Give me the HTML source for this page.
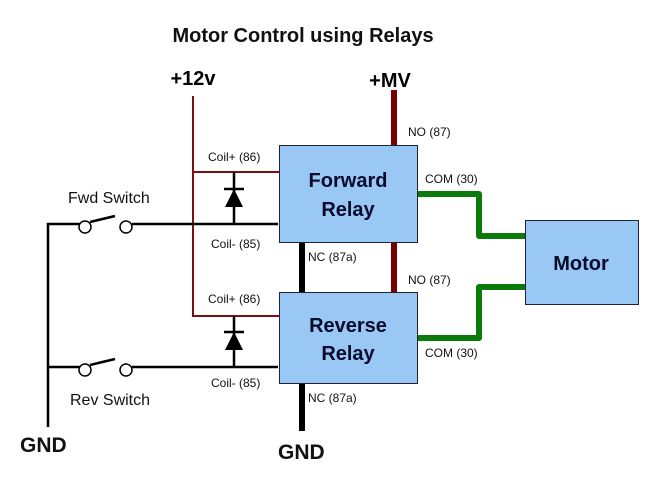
<!DOCTYPE html>
<html><head><style>body{margin:0;background:#fff}svg{display:block}text{font-family:"Liberation Sans",sans-serif}</style></head><body>
<svg width="656" height="504" viewBox="0 0 656 504">
<text x="303" y="42" font-size="20" font-weight="bold" text-anchor="middle" fill="#111">Motor Control using Relays</text>
<text x="193" y="85" font-size="20" font-weight="bold" text-anchor="middle">+12v</text>
<text x="390" y="87" font-size="20" font-weight="bold" text-anchor="middle">+MV</text>
<!-- 12v red wiring -->
<g stroke="#7a1010" stroke-width="2" fill="none">
<polyline points="193,96 193,316 280,316"/>
<line x1="193" y1="172" x2="280" y2="172"/>
</g>
<!-- black control wiring -->
<g stroke="#000" stroke-width="2.5" fill="none">
<polyline points="48,427 48,224 80,224"/>
<line x1="132" y1="224" x2="278" y2="224"/>
<line x1="48" y1="367" x2="80" y2="367"/>
<line x1="132" y1="367" x2="278" y2="367"/>
<line x1="234" y1="172" x2="234" y2="224"/>
<line x1="234" y1="316" x2="234" y2="367"/>
<line x1="224" y1="189" x2="244" y2="189"/>
<line x1="224" y1="332" x2="244" y2="332"/>
<line x1="90" y1="222" x2="115" y2="216"/>
<line x1="90" y1="365" x2="115" y2="359"/>
</g>
<polygon points="234,189 225,207 243,207" fill="#000"/>
<polygon points="234,332 225,350 243,350" fill="#000"/>
<g stroke="#000" stroke-width="1.5" fill="#fff">
<circle cx="85" cy="227" r="6"/><circle cx="126" cy="227" r="6"/>
<circle cx="85" cy="370" r="6"/><circle cx="126" cy="370" r="6"/>
</g>
<!-- MV and NC -->
<g stroke-width="6">
<line x1="394" y1="90" x2="394" y2="146" stroke="#700"/>
<line x1="394" y1="242" x2="394" y2="293" stroke="#700"/>
<line x1="302" y1="242" x2="302" y2="293" stroke="#000"/>
<line x1="302" y1="383" x2="302" y2="431" stroke="#000"/>
</g>
<g stroke="#0a7a0a" stroke-width="6" fill="none" stroke-linejoin="round">
<polyline points="417,194 479,194 479,236 525,236"/>
<polyline points="417,338 479,338 479,287 525,287"/>
</g>
<g fill="#99c8f5" stroke="#223" stroke-width="1">
<rect x="279.5" y="145.5" width="138" height="97"/>
<rect x="279.5" y="292.5" width="138" height="91"/>
<rect x="525.5" y="220.5" width="113" height="84"/>
</g>
<g font-size="20" font-weight="bold" fill="#0a0a2a" text-anchor="middle">
<text x="348" y="187">Forward</text><text x="348" y="216">Relay</text>
<text x="348" y="332">Reverse</text><text x="348" y="360">Relay</text>
<text x="581" y="270">Motor</text>
</g>
<g font-size="12" fill="#111">
<text x="208" y="161">Coil+ (86)</text>
<text x="211" y="248">Coil- (85)</text>
<text x="208" y="303">Coil+ (86)</text>
<text x="211" y="387">Coil- (85)</text>
<text x="408" y="136">NO (87)</text>
<text x="408" y="284">NO (87)</text>
<text x="425" y="183">COM (30)</text>
<text x="425" y="357">COM (30)</text>
<text x="308" y="261">NC (87a)</text>
<text x="308" y="402">NC (87a)</text>
</g>
<g font-size="16" fill="#111">
<text x="68" y="203">Fwd Switch</text>
<text x="70" y="405">Rev Switch</text>
</g>
<g font-size="21" font-weight="bold" fill="#111">
<text x="20" y="452">GND</text>
<text x="278" y="459">GND</text>
</g>
</svg>
</body></html>
